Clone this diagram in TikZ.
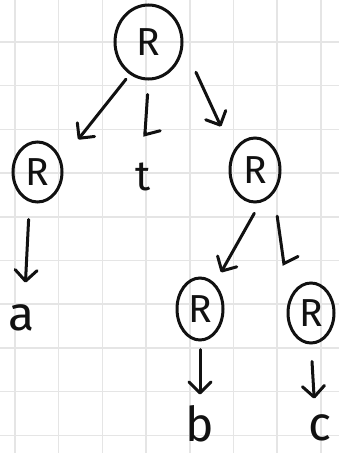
\documentclass[tikz,border=0pt]{standalone}
\usepackage{fontspec}
\setmainfont{Fira Sans}
\usetikzlibrary{arrows.meta,shapes.geometric}
\definecolor{gridline}{RGB}{229,229,229}
\definecolor{ink}{RGB}{17,17,17}

\begin{document}
\begin{tikzpicture}[
  x=1pt, y=-1pt,
  rnode/.style={ellipse, draw=ink, line width=3pt, inner sep=0, text=ink,
                font=\fontsize{39}{39}\selectfont},
  leaf/.style={inner sep=0, text=ink, font=\fontsize{48}{48}\selectfont},
  arr/.style={draw=ink, line width=3pt, line cap=round,
              -{Straight Barb[length=11pt, width=22pt, line cap=round, line join=round]}},
  harp/.style={arr, -{Straight Barb[harpoon, length=5pt, width=30pt, line cap=round]}},
]
\useasboundingbox (0,0) rectangle (339,453);
% squared paper
\fill[white] (0,0) rectangle (339,453);
\foreach \k in {0,...,7} {
  \draw[gridline, line width=1.5pt] ({15+43.7*\k},0) -- ({15+43.7*\k},453);
}
\foreach \k in {0,...,9} {
  \draw[gridline, line width=1.5pt] (0,{42+43.7*\k}) -- (339,{42+43.7*\k});
}
% ---- R nodes
\node[rnode, minimum width=67pt, minimum height=74pt] (root) at (148.5,42) {R};
\node[rnode, minimum width=49pt, minimum height=60pt] (rl) at (37.5,172) {R};
\node[rnode, minimum width=50pt, minimum height=64pt] (rr) at (255,170) {R};
\node[rnode, minimum width=46pt, minimum height=62pt] (rrl) at (200,309) {R};
\node[rnode, minimum width=46pt, minimum height=60pt] (rrr) at (311,313) {R};
% ---- leaves
\node[leaf, font=\fontsize{42}{42}\selectfont] (lt) at (143,177) {t};
\node[leaf] (la) at (22,318) {a};
\node[leaf] (lb) at (200,424) {b};
\node[leaf] (lc) at (320,428) {c};
% ---- edges (gaps left open at both ends)
\draw[arr, shorten <=6pt, shorten >=26.6pt] (root.-120) -- (rl.26);
\draw[harp, shorten <=14pt, shorten >=26pt] (root.south) -- (lt.north);
\draw[arr, shorten <=30pt, shorten >=28pt] (root.-5) -- (rr.141);
\draw[arr, shorten <=17.5pt, shorten >=22pt] (rl.-105) -- (la.80);
\draw[arr, shorten <=12pt, shorten >=12.5pt] (rr.-81) -- (rrl.60);
\draw[harp, shorten <=23pt, shorten >=34pt] (rr.-51) -- (rrr.148);
\draw[arr, shorten <=8pt, shorten >=11pt] (rrl.south) -- (lb.north);
\draw[arr, shorten <=17pt, shorten >=16pt] (rrr.south) -- (lc.110);
\end{tikzpicture}
\end{document}
